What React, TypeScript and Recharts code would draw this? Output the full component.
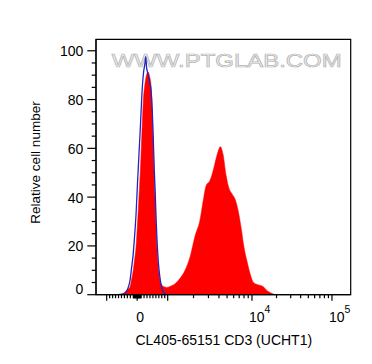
import React from 'react';
import { ComposedChart, Area, Line, XAxis, YAxis, ReferenceArea, Label } from 'recharts';

// Histogram bins (display channel on a 0-1024 logicle scale)
const channels = [0, 88, 109, 121, 129, 137, 143, 149, 155, 161, 167, 173, 179, 185, 191, 197, 200, 203, 209, 215, 221, 226, 230, 234, 238, 242, 246, 251, 257, 265, 273, 285, 297, 318, 338, 358, 378, 398, 418, 430, 442, 458, 470, 482, 490, 500, 511, 523, 535, 547, 559, 571, 583, 595, 607, 619, 635, 651, 671, 691, 708, 724, 1024];
// CD3 stained sample (red, filled)
const cd3Counts = [0, 0, 0.5, 1.5, 2.3, 3.3, 6.3, 9.5, 14.3, 19.7, 29.5, 40.4, 52.3, 67.6, 80.7, 86.6, 88.6, 90.1, 91.3, 89.8, 86, 75.8, 62.1, 48.4, 38.6, 26.5, 17.4, 10.8, 6, 4, 3.3, 3, 3.4, 4.5, 6.7, 10, 15.5, 24, 30.6, 38, 44.5, 46.8, 50.5, 55.5, 58.5, 60.7, 57.5, 49, 43.5, 41.3, 39.2, 34.7, 27.8, 19.5, 13.8, 8.8, 4.8, 4.1, 3.4, 1.4, 0.5, 0, 0];
// Unstained / isotype control (blue line)
const isotypeCounts = [0, 0, 0.2, 1.2, 2.8, 6, 11, 16, 23.8, 33, 46, 58, 70, 83, 91, 95, 97.5, 93.5, 90.5, 87.5, 84, 76, 65, 52, 42, 30, 21, 13, 7, 2.5, 0.8, 0, 0, 0, 0, 0, 0, 0, 0, 0, 0, 0, 0, 0, 0, 0, 0, 0, 0, 0, 0, 0, 0, 0, 0, 0, 0, 0, 0, 0, 0, 0, 0];

const yTickValues = [0, 5, 10, 15, 20, 25, 30, 35, 40, 45, 50, 55, 60, 65, 70, 75, 80, 85, 90, 95, 100];
const yLabelValues = [0, 20, 40, 60, 80, 100];

const xMajorValues = [-1000, 0, 1000, 10000, 100000];
const xMinorValues = [
  -900, -800, -700, -600, -500, -400, -300, -200,
  -100, -90, -80, -70, -60, -50, -40, -30, -20, -10,
  10, 20, 30, 40, 50, 60, 70, 80, 90, 100,
  200, 300, 400, 500, 600, 700, 800, 900,
  2000, 3000, 4000, 5000, 6000, 7000, 8000, 9000,
  20000, 30000, 40000, 50000, 60000, 70000, 80000, 90000,
];
const xLabelText: Record<string, [string, string]> = {
  '0': ['0', ''],
  '10000': ['10', '4'],
  '100000': ['10', '5'],
};

const FONT = 'Liberation Sans, Arial, Helvetica, sans-serif';
const Y_MAX = 104.7;

// logicle-like display transform: fluorescence value -> display offset
function displayOffset(v: number): number {
  const a = Math.abs(v);
  const s = Math.sign(v);
  let r: number;
  if (a <= 100) r = a * 0.039;
  else if (a <= 1000) r = 3.9 + ((a - 100) / 900) * 26.6;
  else {
    const d = Math.log10(a) - 3;
    r = 30.5 + 84.3 * d - 2.15 * d * (d - 1);
  }
  return s * r;
}
function toChannel(v: number): number {
  return (41.2 + displayOffset(v)) * 4.02;
}

const xTicks = [
  ...xMajorValues.map((v) => ({ v, major: true })),
  ...xMinorValues.map((v) => ({ v, major: false })),
];
const xTickChannels = xTicks.map((t) => toChannel(t.v));

const data = channels.map((c, i) => ({ channel: c, cd3: cd3Counts[i], isotype: isotypeCounts[i] }));

const XTick = (props: any) => {
  const { x, y, payload } = props;
  const idx = xTickChannels.findIndex((c) => Math.abs(c - payload.value) < 1e-6);
  if (idx < 0) return null;
  const t = xTicks[idx];
  const len = t.major ? 6 : 3.5;
  const lab = xLabelText[String(t.v)];
  return (
    <g>
      <line x1={x} x2={x} y1={y} y2={y + len} stroke="#000" strokeWidth={1.2} />
      {lab &&
        (lab[1] ? (
          <text x={x - 3} y={y + 27.3} fontSize={14} textAnchor="start" fill="#000" fontFamily={FONT}>
            {lab[0]}
            <tspan dy={-9.5} fontSize={10.5}>{lab[1]}</tspan>
          </text>
        ) : (
          <text x={x + 3} y={y + 27.3} fontSize={14} textAnchor="middle" fill="#000" fontFamily={FONT}>
            {lab[0]}
          </text>
        ))}
    </g>
  );
};

const YTick = (props: any) => {
  const { x, y, payload } = props;
  const v = payload.value;
  const major = yLabelValues.includes(v);
  return (
    <g>
      <line x1={x - (major ? 8.7 : 4.3)} x2={x} y1={y} y2={y} stroke="#000" strokeWidth={1.2} />
      {major && (
        <text x={x - 12.7} y={v === 0 ? y - 0.5 : y + 5.5} fontSize={14} textAnchor="end" fill="#000" fontFamily={FONT}>
          {v}
        </text>
      )}
    </g>
  );
};

export default function App() {
  return (
    <div style={{ position: 'absolute', left: 0, top: 0, width: 372, height: 364, background: '#fff' }}>
      <svg width={372} height={364} style={{ position: 'absolute', left: 0, top: 0 }}>
        <text
          x={111.7}
          y={66.7}
          fontSize={18.5}
          textLength={230}
          lengthAdjust="spacingAndGlyphs"
          fontFamily={FONT}
          fill="#f0f0f0"
          stroke="#b4b4b4"
          strokeWidth={0.7}
        >
          WWW.PTGLAB.COM
        </text>
      </svg>
      <div style={{ position: 'absolute', left: 0, top: 0 }}>
        <ComposedChart
          width={372}
          height={364}
          data={data}
          margin={{ top: 39.3, right: 21.3, bottom: 29.3, left: 36 }}
        >
          <XAxis
            dataKey="channel"
            type="number"
            domain={[0, 1024]}
            ticks={xTickChannels}
            interval={0}
            tick={<XTick />}
            tickLine={false}
            tickSize={0}
            tickMargin={0}
            height={40}
            axisLine={{ stroke: '#000', strokeWidth: 1.2 }}
            allowDataOverflow
          >
            <Label
              content={() => (
                <text x={223.8} y={345} fontSize={14} textAnchor="middle" fill="#000" fontFamily={FONT}>
                  CL405-65151 CD3 (UCHT1)
                </text>
              )}
            />
          </XAxis>
          <YAxis
            type="number"
            domain={[0, Y_MAX]}
            ticks={yTickValues}
            interval={0}
            tick={<YTick />}
            tickLine={false}
            tickSize={0}
            tickMargin={0}
            width={60}
            axisLine={{ stroke: '#000', strokeWidth: 1.2 }}
            allowDataOverflow
          >
            <Label
              content={() => (
                <text
                  x={35}
                  y={162.5}
                  fontSize={13.5}
                  textAnchor="middle"
                  dominantBaseline="central"
                  transform="rotate(-90 35 162.5)"
                  fill="#000"
                  fontFamily={FONT}
                >
                  Relative cell number
                </text>
              )}
            />
          </YAxis>
          <Area
            type="monotone"
            dataKey="cd3"
            stroke="#ff0000"
            strokeWidth={0.5}
            fill="#ff0000"
            fillOpacity={1}
            dot={false}
            activeDot={false}
            isAnimationActive={false}
          />
          <Line
            type="monotone"
            dataKey="isotype"
            stroke="#2323c0"
            strokeWidth={1.3}
            dot={false}
            activeDot={false}
            isAnimationActive={false}
          />
          <ReferenceArea x1={0} x2={1024} y1={0} y2={Y_MAX} fill="none" stroke="#000" strokeWidth={1.2} />
        </ComposedChart>
      </div>
    </div>
  );
}
